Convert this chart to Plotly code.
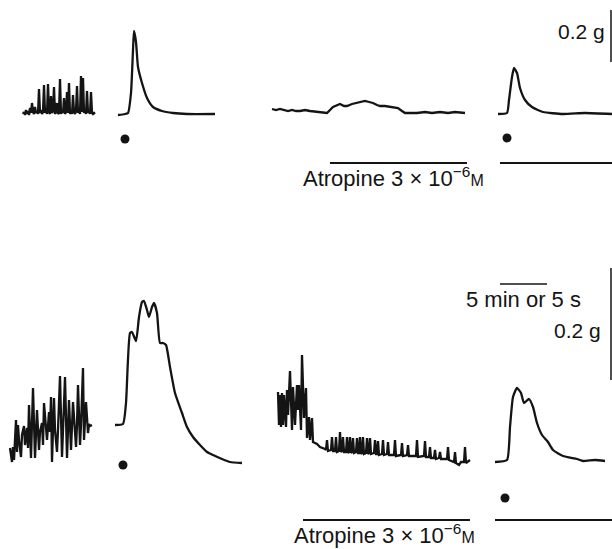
import plotly.graph_objects as go
import numpy as np

# ---------------- DATA (time from segment start, deflection above baseline) ----------------
# Top row
a1_t = [0,1,2,3,4,5,6,7,8,9,10,11,12,13,14,15,16,17,18,19,20,21,22,23,24,25,26,27,28,29,30,31,32,33,34,35,36,37,38,39,40,41,42,43,44,45,46,47,48,49,50,51,52,53,54,55,56,57,58,59,60,61,62,63,64,65,66,67,68,69,70,71,72]
a1_v = [1,3,0,5,1,4,0,7,2,12,3,1,8,2,4,1,26,2,5,1,3,30,2,6,1,31,3,1,19,2,4,28,1,3,12,1,2,36,1,4,2,17,1,3,23,2,32,1,5,1,20,3,1,4,29,2,5,1,39,3,37,2,5,1,24,2,4,1,23,2,1,2,1]

a2_t = [0,7,10,13,15,16,18,20,24,29,35,44,55,69,97]
a2_v = [0,1,2,22,65,84,73,48,32,17,8,4,2,1,1]

a3_t = [0,4,8,11,16,20,24,28,33,38,45,50,55,61,68,72,75,80,85,89,93,97,101,105,108,113,118,123,126,130,133,138,145,153,160,168,176,183,193]
a3_v = [4,3,4,3,2,3,2,2,3,2,1,1,0,6,9,7,7,9,10,11,12,11,10,8,7,7,6,5,5,2,0,0,0,1,0,1,0,1,0]

a4_t = [0,9,11,14,16,19,22,27,34,45,65,87,114]
a4_v = [0,1,14,37,46,41,26,14,7,2,0,1,0]

# Bottom row
b1_t = [0,1,2,3,4,6,7,8,9,11,12,14,15,17,18,19,21,23,25,27,29,30,32,33,34,37,39,40,41,42,44,45,47,48,50,52,53,55,57,58,59,61,63,66,67,68,70,71,73,74,76,78,79,80,82]
b1_v = [2,-8,-12,3,-10,30,-2,25,10,-7,15,24,5,22,2,45,-8,62,-8,40,0,18,27,5,47,10,38,18,53,-12,52,20,-2,20,74,-7,20,73,-8,20,50,0,48,3,25,65,5,25,82,10,48,17,26,24,25]

b2_t = [0,8,11,15,17,21,24,27,29,32,34,37,39,42,45,48,51,55,60,67,72,78,85,92,98,107,115,127]
b2_v = [38,39,60,130,131,122,146,161,162,153,146,156,160,150,120,120,118,96,70,50,36,26,18,11,8,4,1,0]

b3_t = [0,1,2,3,4,5,6,7,8,9,10,12,14,15,17,19,20,21,23,24,26,28,29,31,32,34,35,39,42,47,
        48,49,50,53,54,55,57,58,59,61,62,63,64,65,66,68,69,70,71,72,73,74,75,76,78,79,80,
        81,82,83,84,85,86,88,89,90,91,92,93,96,97,98,99,100,101,104,105,106,109,110,111,
        116,117,118,123,124,125,129,130,131,138,139,140,146,147,148,151,152,153,156,157,158,
        161,162,163,169,170,171,176,177,178,181,183,186,187,188,192]
b3_v = [70,37,67,35,69,37,67,42,35,72,47,91,32,75,37,77,52,77,32,107,44,74,24,45,22,44,20,18,15,13,
        12,22,11,12,25,11,11,25,10,11,30,10,11,25,10,10,25,9,10,25,9,10,24,9,10,24,9,
        9,25,8,9,25,8,9,24,8,9,24,8,9,22,8,8,21,7,8,22,7,8,20,7,
        7,22,6,7,19,6,7,17,6,6,22,5,6,21,5,5,15,4,4,12,3,
        4,10,3,3,15,2,0,10,-1,-3,0,0,15,-1,2]

b4_t = [0,12,15,18,22,26,29,34,38,42,47,53,58,68,82,88,100,110]
b4_v = [0,2,35,65,74,69,59,63,55,39,27,20,12,6,3,1,2,1]

atropine_label = "Atropine 3 \u00d7 10<sup>\u22126</sup><span style='font-size:16px'>M</span>"
scale_top = "0.2 g"
scale_bottom_time = "5 min or 5 s"
scale_bottom_force = "0.2 g"

# ---------------- LAYOUT / PLACEMENT ----------------
W, H = 612, 549
INK = "#141414"
# segment origins: (x start, baseline y)
place = {
    "a1": (23, 115), "a2": (118, 115), "a3": (272, 113), "a4": (498, 114),
    "b1": (10, 450), "b2": (115, 463), "b3": (278, 462), "b4": (495, 462),
}
series = {
    "a1": (a1_t, a1_v), "a2": (a2_t, a2_v), "a3": (a3_t, a3_v), "a4": (a4_t, a4_v),
    "b1": (b1_t, b1_v), "b2": (b2_t, b2_v), "b3": (b3_t, b3_v), "b4": (b4_t, b4_v),
}
smooth = {"a2", "a4", "b2", "b4"}

fig = go.Figure()
for key, (t, v) in series.items():
    x0, y0 = place[key]
    line = dict(color=INK, width=2.3)
    if key in smooth:
        line.update(shape="spline", smoothing=0.5)
    fig.add_trace(go.Scatter(
        x=np.array(t) + x0, y=y0 - np.array(v), mode="lines",
        line=line, hoverinfo="skip", showlegend=False))

# stimulus dots
dots_x = [125, 507, 123, 505]
dots_y = [139, 138, 465, 498]
fig.add_trace(go.Scatter(x=dots_x, y=dots_y, mode="markers",
                         marker=dict(color=INK, size=9), showlegend=False, hoverinfo="skip"))

# drug bars and scale bars (as line segments)
bars = [
    ((330, 467), (163, 163), 2.0),
    ((500, 613), (163, 163), 2.0),
    ((303, 470), (520, 520), 2.0),
    ((495, 613), (520, 520), 2.0),
    ((611, 611), (10, 62), 1.5),
    ((611, 611), (268, 380), 1.5),
    ((500, 547), (284, 284), 1.5),
]
for xs, ys, w in bars:
    fig.add_trace(go.Scatter(x=list(xs), y=list(ys), mode="lines",
                             line=dict(color=INK, width=w), showlegend=False, hoverinfo="skip"))

FONT = dict(family="Liberation Sans, Arial, Helvetica, sans-serif", size=22, color=INK)
FONT_G = dict(family="Liberation Sans, Arial, Helvetica, sans-serif", size=21, color=INK)
annots = [
    (301, 177, "left", atropine_label, FONT),
    (292, 534, "left", atropine_label, FONT),
    (607, 31, "right", scale_top, FONT_G),
    (464, 299, "left", scale_bottom_time, FONT),
    (603, 330, "right", scale_bottom_force, FONT_G),
]
for x, y, xa, txt, f in annots:
    fig.add_annotation(x=x, y=y, xref="x", yref="y", text=txt, showarrow=False,
                       xanchor=xa, yanchor="middle", font=f)

fig.update_layout(
    width=W, height=H, margin=dict(l=0, r=0, t=0, b=0),
    paper_bgcolor="white", plot_bgcolor="white",
    xaxis=dict(range=[0, W], visible=False, fixedrange=True),
    yaxis=dict(range=[H, 0], visible=False, fixedrange=True),
)
fig.write_html("out.html")
